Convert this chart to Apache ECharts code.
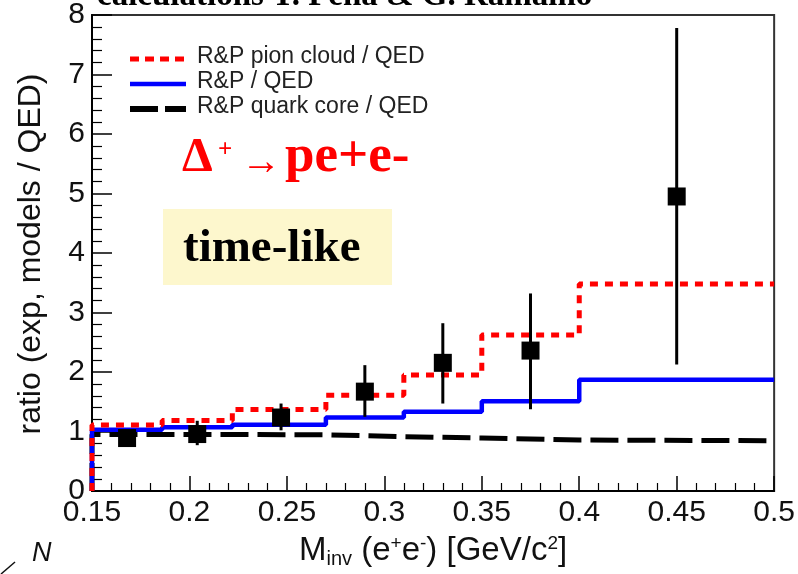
<!DOCTYPE html>
<html>
<head>
<meta charset="utf-8">
<script src="https://cdn.jsdelivr.net/npm/echarts@6/dist/echarts.min.js"></script>
<style>
  html, body { margin: 0; padding: 0; background: #fff; }
  #chart { width: 798px; height: 574px; }
</style>
</head>
<body>
<div id="chart"></div>
<script>
// Histogram bin edges in invariant mass (GeV/c^2)
const binEdges = [0.15, 0.186, 0.222, 0.27, 0.31, 0.35, 0.40, 0.50];
// Model ratios per bin
const pionCloud = [1.11, 1.185, 1.37, 1.61, 1.95, 2.62, 3.48];
const fullModel = [1.03, 1.07, 1.115, 1.235, 1.33, 1.51, 1.87];
const quarkCore = [0.95, 0.95, 0.945, 0.913, 0.89, 0.857, 0.846];

// Measured ratios with uncertainty range
const expMass = [0.168, 0.204, 0.247, 0.29, 0.33, 0.375, 0.45];
const expRatio = [0.89, 0.957, 1.235, 1.67, 2.154, 2.36, 4.95];
const expLow = [0.74, 0.77, 1.02, 1.247, 1.47, 1.374, 2.125];
const expHigh = [1.02, 1.18, 1.47, 2.115, 2.82, 3.32, 7.78];

const xTicks = [0.15, 0.2, 0.25, 0.3, 0.35, 0.4, 0.45, 0.5];
const yTicks = [0, 1, 2, 3, 4, 5, 6, 7, 8];

// Build a histogram outline starting from zero at the first edge
function histogram(values) {
  const pts = [[binEdges[0], 0]];
  for (let i = 0; i < values.length; i++) pts.push([binEdges[i], values[i]]);
  pts.push([binEdges[binEdges.length - 1], values[values.length - 1]]);
  return pts;
}

const sans = 'Liberation Sans, Arial, sans-serif';
const serif = 'Liberation Serif, Times New Roman, serif';

const chart = echarts.init(document.getElementById('chart'), null, { renderer: 'canvas' });

const legendRows = [
  { y: 57, ly: 59, text: 'R&P pion cloud / QED', color: '#ff0000', dash: [9, 6], w: 5 },
  { y: 82, ly: 84, text: 'R&P / QED', color: '#0000ff', dash: null, w: 4.5 },
  { y: 107, ly: 109, text: 'R&P quark core / QED', color: '#000000', dash: [28, 7], w: 6 }
];
const legendGraphics = [];
legendRows.forEach(r => {
  legendGraphics.push({
    type: 'line', shape: { x1: 130, y1: r.ly, x2: 186, y2: r.ly },
    style: { stroke: r.color, lineWidth: r.w, lineDash: r.dash }
  });
  legendGraphics.push({
    type: 'text', x: 197, y: r.y,
    style: { text: r.text, font: '23px ' + sans, fill: '#222', textVerticalAlign: 'middle' }
  });
});

const option = {
  animation: false,
  backgroundColor: '#ffffff',
  grid: {
    left: 92, right: 23, top: 15, bottom: 80,
    show: true, borderColor: '#333', borderWidth: 2, backgroundColor: 'transparent'
  },
  xAxis: {
    type: 'value', min: xTicks[0], max: xTicks[xTicks.length - 1], interval: 0.05,
    axisLine: { show: true, lineStyle: { color: '#000', width: 2 } },
    axisTick: { show: true, inside: true, length: 15, lineStyle: { color: '#000', width: 1.5 } },
    minorTick: { show: true, splitNumber: 5, length: 8, lineStyle: { color: '#000', width: 1.2 } },
    splitLine: { show: false },
    axisLabel: {
      margin: 7, fontFamily: sans, fontSize: 30, color: '#111',
      formatter: v => String(+v.toFixed(2))
    },
    name: '{t|M}{sub|inv}{t| (e}{sup|+}{t|e}{sup|-}{t|) [GeV/c}{sup|2}{t|]}',
    nameLocation: 'middle', nameGap: 42,
    nameTextStyle: {
      rich: {
        t: { fontFamily: sans, fontSize: 33, color: '#111', lineHeight: 36 },
        sub: { fontFamily: sans, fontSize: 20, color: '#111', lineHeight: 36, padding: [16, 0, 0, 0] },
        sup: { fontFamily: sans, fontSize: 19, color: '#111', lineHeight: 36, padding: [0, 0, 14, 0] }
      }
    }
  },
  yAxis: {
    type: 'value', min: yTicks[0], max: yTicks[yTicks.length - 1], interval: 1,
    axisLine: { show: true, lineStyle: { color: '#000', width: 2 } },
    axisTick: { show: true, inside: true, length: 20, lineStyle: { color: '#000', width: 1.5 } },
    minorTick: { show: true, splitNumber: 5, length: 10, lineStyle: { color: '#000', width: 1.2 } },
    splitLine: { show: false },
    axisLabel: { margin: 7, fontFamily: sans, fontSize: 30, color: '#111' }
  },
  series: [
    {
      name: 'R&P quark core / QED', type: 'line', step: 'end', data: histogram(quarkCore),
      symbol: 'none', lineStyle: { color: '#000', width: 5, type: [28, 9] }, z: 2
    },
    {
      name: 'R&P / QED', type: 'line', step: 'end', data: histogram(fullModel),
      symbol: 'none', lineStyle: { color: '#0000ff', width: 4.5, type: 'solid' }, z: 3
    },
    {
      name: 'R&P pion cloud / QED', type: 'line', step: 'end', data: histogram(pionCloud),
      symbol: 'none', lineStyle: { color: '#ff0000', width: 5, type: [8, 7] }, z: 4
    },
    {
      name: 'errors', type: 'custom', z: 5,
      data: expMass.map((m, i) => [m, expLow[i], expHigh[i]]),
      renderItem: (params, api) => {
        const lo = api.coord([api.value(0), api.value(1)]);
        const hi = api.coord([api.value(0), api.value(2)]);
        return {
          type: 'line',
          shape: { x1: lo[0], y1: lo[1], x2: hi[0], y2: hi[1] },
          style: { stroke: '#000', lineWidth: 3 }
        };
      }
    },
    {
      name: 'data', type: 'scatter', z: 6,
      data: expMass.map((m, i) => [m, expRatio[i]]),
      symbol: 'rect', symbolSize: 18, itemStyle: { color: '#000', opacity: 1 },
      emphasis: { disabled: true }
    }
  ],
  graphic: [
    // cropped caption line along the top edge
    {
      type: 'text', x: 97, y: -4,
      style: { text: 'calculations T. Peña & G. Ramalho', font: 'bold 33px ' + serif, fill: '#000', textVerticalAlign: 'middle' }
    },
    // vertical axis title
    {
      type: 'text', x: 31, y: 254, rotation: Math.PI / 2,
      style: { text: 'ratio (exp, models / QED)', font: '32px ' + sans, fill: '#111', textAlign: 'center', textVerticalAlign: 'middle' }
    },
    ...legendGraphics,
    // reaction label
    { type: 'text', x: 182, y: 158, style: { text: 'Δ', font: 'bold 49px ' + serif, fill: '#ff0000', textVerticalAlign: 'middle' } },
    { type: 'text', x: 218, y: 151, style: { text: '+', font: 'bold 25px ' + serif, fill: '#ff0000', textVerticalAlign: 'middle' } },
    { type: 'text', x: 241, y: 163, style: { text: '→', font: '40px ' + serif, fill: '#ff0000', textVerticalAlign: 'middle' } },
    { type: 'text', x: 285, y: 157, style: { text: 'pe+e-', font: 'bold 53px ' + serif, fill: '#ff0000', textVerticalAlign: 'middle' } },
    // kinematic region box
    { type: 'rect', shape: { x: 163, y: 209, width: 229, height: 76 }, style: { fill: '#fdf7cd' } },
    { type: 'text', x: 183, y: 249, style: { text: 'time-like', font: 'bold 47px ' + serif, fill: '#000', textVerticalAlign: 'middle' } },
    // fragment at lower left
    { type: 'text', x: 32, y: 553, style: { text: 'N', font: 'italic 27px ' + sans, fill: '#111', textVerticalAlign: 'middle' } },
    { type: 'line', shape: { x1: 1, y1: 574, x2: 15, y2: 562 }, style: { stroke: '#111', lineWidth: 1.5 } }
  ]
};

chart.setOption(option);
</script>
</body>
</html>
